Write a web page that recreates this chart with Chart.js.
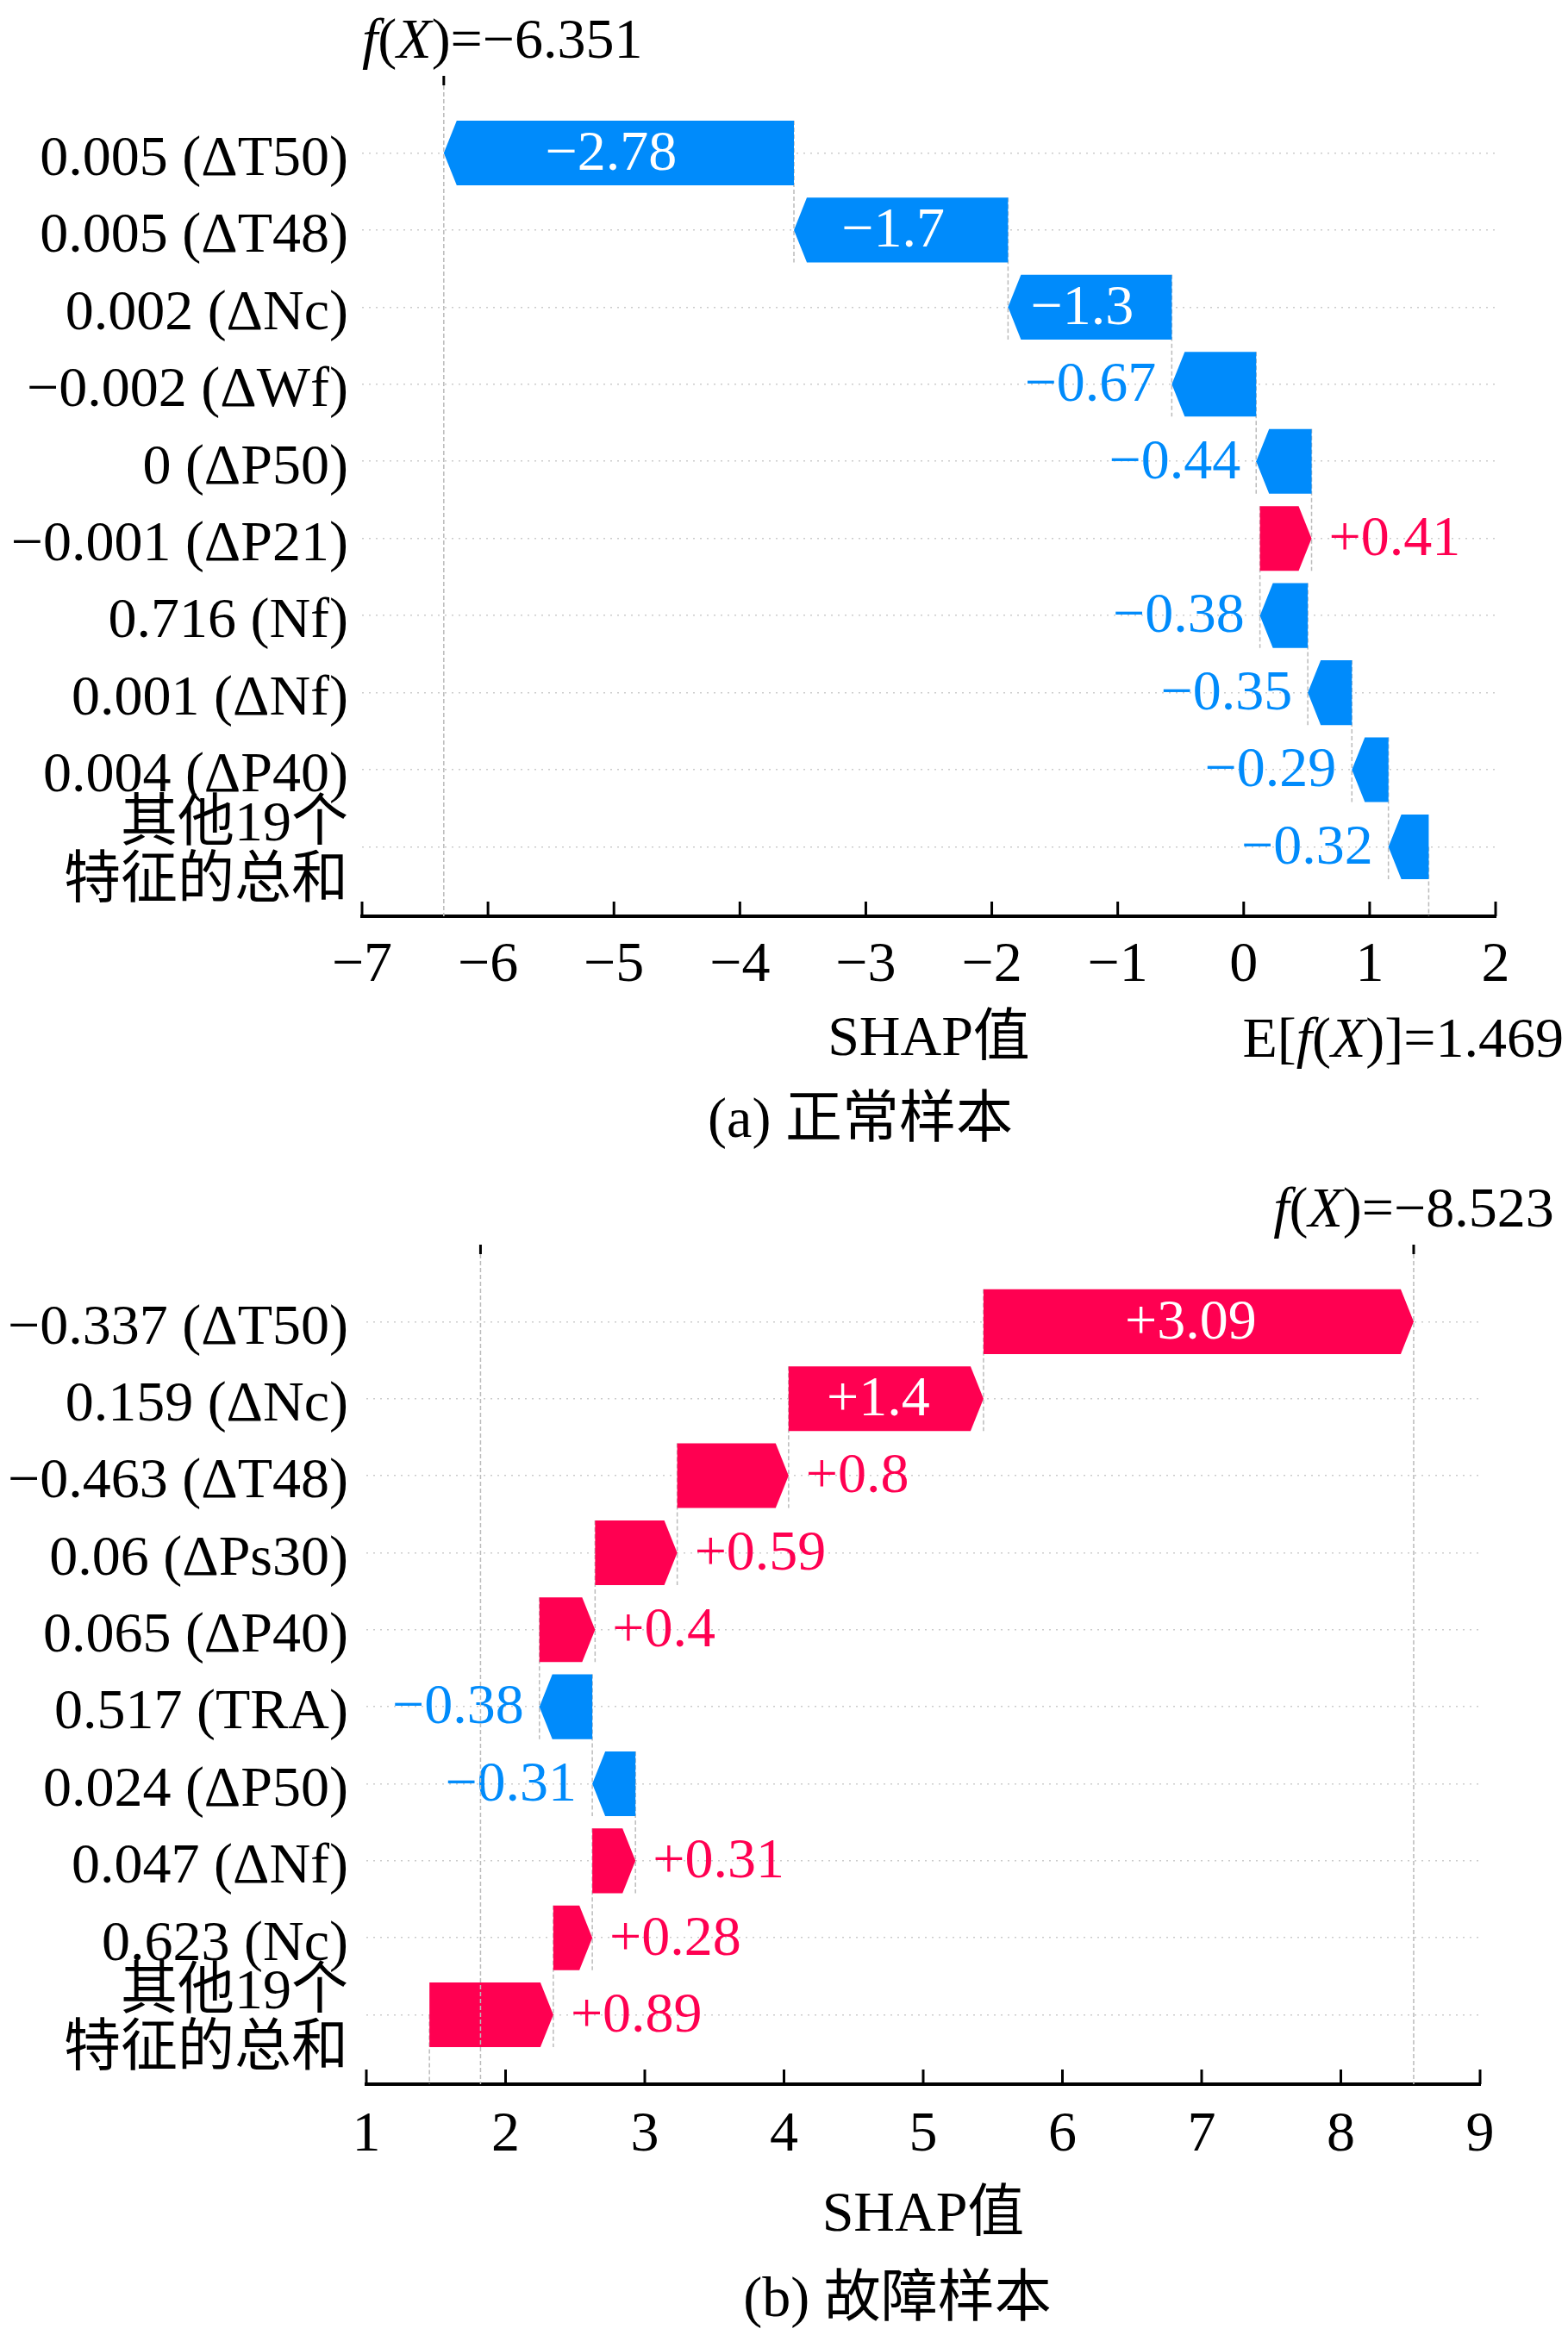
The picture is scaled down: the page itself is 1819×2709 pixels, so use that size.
<!DOCTYPE html>
<html>
<head>
<meta charset="utf-8">
<script src="https://cdn.jsdelivr.net/npm/chart.js@4.4.1/dist/chart.umd.min.js"></script>
<style>
html, body { margin: 0; padding: 0; background: #fff; }
#wrap { position: relative; width: 1819px; height: 2709px; }
canvas { position: absolute; left: 0; }
#c1 { top: 0; }
#c2 { top: 1350px; }
</style>
</head>
<body>
<div id="wrap">
<canvas id="c1" width="1819" height="1350"></canvas>
<canvas id="c2" width="1819" height="1359"></canvas>
</div>
<script>
// (a) 正常样本
const featuresA = ['0.005 (ΔT50)', '0.005 (ΔT48)', '0.002 (ΔNc)', '\u22120.002 (ΔWf)', '0 (ΔP50)',
  '\u22120.001 (ΔP21)', '0.716 (Nf)', '0.001 (ΔNf)', '0.004 (ΔP40)', ['其他19个', '特征的总和']];
const shapA = [-2.78, -1.7, -1.3, -0.67, -0.44, 0.41, -0.38, -0.35, -0.29, -0.32];
const baseA = 1.469;
const fxA = -6.351;
const xRangeA = [-7, 2];

// (b) 故障样本
const featuresB = ['\u22120.337 (ΔT50)', '0.159 (ΔNc)', '\u22120.463 (ΔT48)', '0.06 (ΔPs30)', '0.065 (ΔP40)',
  '0.517 (TRA)', '0.024 (ΔP50)', '0.047 (ΔNf)', '0.623 (Nc)', ['其他19个', '特征的总和']];
const shapB = [3.09, 1.4, 0.8, 0.59, 0.4, -0.38, -0.31, 0.31, 0.28, 0.89];
const baseB = 1.453;
const fxB = 8.523;
const markB = 1.82;
const xRangeB = [1, 9];

const BLUE = '#008bfb';
const RED = '#ff0051';
const FONT = '"Liberation Serif", "Times New Roman", "Noto Sans CJK SC", serif';
const FS = 66;

// waterfall spans, built from the bottom row (base value) upward
function spans(shap, base) {
  const out = new Array(shap.length);
  let acc = base;
  for (let i = shap.length - 1; i >= 0; i--) {
    out[i] = [acc, acc + shap[i]];
    acc += shap[i];
  }
  return out;
}

function fmt(v) {
  return (v < 0 ? '\u2212' : '+') + Math.abs(v);
}

function vline(ctx, x, y1, y2) {
  ctx.beginPath();
  ctx.moveTo(x, y1);
  ctx.lineTo(x, y2);
  ctx.stroke();
}

// text with italic parts, e.g. f(X)
function richWidth(ctx, parts) {
  let w = 0;
  parts.forEach(p => {
    ctx.font = (p[1] ? 'italic ' : '') + FS + 'px ' + FONT;
    w += ctx.measureText(p[0]).width;
  });
  return w;
}
function drawRich(ctx, parts, x, y) {
  ctx.textAlign = 'left';
  ctx.textBaseline = 'alphabetic';
  parts.forEach(p => {
    ctx.font = (p[1] ? 'italic ' : '') + FS + 'px ' + FONT;
    ctx.fillText(p[0], x, y);
    x += ctx.measureText(p[0]).width;
  });
}

function makeWaterfall(info) {
  return {
    id: 'waterfall',
    beforeDatasetDraw() { return false; },
    beforeDatasetsDraw(chart) {
      const ctx = chart.ctx, xs = chart.scales.x, ca = chart.chartArea;
      const bars = chart.getDatasetMeta(0).data;
      ctx.save();
      ctx.strokeStyle = '#bbbbbb';
      ctx.lineWidth = 1.5;
      ctx.setLineDash([5, 3]);
      for (let i = 0; i < bars.length - 1; i++) {
        const px = xs.getPixelForValue(info.spans[i][0]);
        vline(ctx, px, bars[i].y - bars[i].height / 2, bars[i + 1].y + bars[i + 1].height / 2);
      }
      const last = bars[bars.length - 1];
      vline(ctx, xs.getPixelForValue(info.base), last.y, ca.bottom);
      ctx.restore();
    },
    afterDatasetsDraw(chart) {
      const ctx = chart.ctx, xs = chart.scales.x, ca = chart.chartArea;
      const bars = chart.getDatasetMeta(0).data;
      ctx.save();
      ctx.font = FS + 'px ' + FONT;
      ctx.textBaseline = 'middle';
      bars.forEach((el, i) => {
        const dir = info.shap[i] >= 0 ? 1 : -1;
        const lo = Math.min(el.x, el.base), hi = Math.max(el.x, el.base);
        const tail = dir > 0 ? lo : hi, tip = dir > 0 ? hi : lo;
        const head = Math.min(15, hi - lo);
        const sh = tip - dir * head;
        const top = el.y - el.height / 2, bot = el.y + el.height / 2;
        ctx.fillStyle = el.options.backgroundColor;
        ctx.beginPath();
        ctx.moveTo(tail, top);
        ctx.lineTo(sh, top);
        ctx.lineTo(tip, el.y);
        ctx.lineTo(sh, bot);
        ctx.lineTo(tail, bot);
        ctx.closePath();
        ctx.fill();

        const txt = fmt(info.shap[i]);
        const tw = ctx.measureText(txt).width;
        const ty = el.y + 2;
        if (tw < hi - lo - 30) {
          ctx.fillStyle = '#ffffff';
          ctx.textAlign = 'center';
          ctx.fillText(txt, (lo + hi) / 2 - 9, ty);
        } else if (dir > 0) {
          ctx.textAlign = 'left';
          ctx.fillText(txt, tip + 20, ty);
        } else {
          ctx.textAlign = 'right';
          ctx.fillText(txt, tip - 18, ty);
        }
      });

      // f(X) line and extra marker lines, full height
      info.fullLines.forEach(v => {
        const px = xs.getPixelForValue(v);
        ctx.strokeStyle = '#bbbbbb';
        ctx.lineWidth = 1.5;
        ctx.setLineDash([5, 3]);
        vline(ctx, px, ca.top + 11, ca.bottom);
        ctx.setLineDash([]);
        ctx.strokeStyle = '#000';
        ctx.lineWidth = 3;
        vline(ctx, px, ca.top, ca.top + 11);
      });
      ctx.restore();
    },
    afterDraw(chart) {
      const ctx = chart.ctx, xs = chart.scales.x, ca = chart.chartArea;
      ctx.save();
      // inward tick marks
      ctx.strokeStyle = '#000';
      ctx.lineWidth = 3;
      xs.ticks.forEach(t => {
        const px = xs.getPixelForValue(t.value);
        vline(ctx, px, ca.bottom, ca.bottom - 17);
      });
      ctx.fillStyle = '#000';
      // f(X) label
      const fParts = [['f', true], ['(', false], ['X', true], [')=\u2212' + Math.abs(info.fx).toFixed(3), false]];
      const fw = richWidth(ctx, fParts);
      const fc = Math.max(ca.left + fw / 2, xs.getPixelForValue(info.fx));
      drawRich(ctx, fParts, fc - fw / 2, info.fxBaseline);
      // E[f(X)] label
      if (info.showBase) {
        const eParts = [['E[', false], ['f', true], ['(', false], ['X', true], [')]=' + info.base.toFixed(3), false]];
        const ew = richWidth(ctx, eParts);
        const ec = Math.min(xs.getPixelForValue(info.base), chart.width - 5 - ew / 2);
        drawRich(ctx, eParts, ec - ew / 2, info.baseBaseline);
      }
      // sub-figure caption
      ctx.font = FS + 'px ' + FONT;
      ctx.textAlign = 'center';
      ctx.textBaseline = 'middle';
      ctx.fillText(info.caption, info.captionX, info.captionY);
      ctx.restore();
    }
  };
}

function makeChart(id, info) {
  const sp = info.spans;
  return new Chart(document.getElementById(id), {
    type: 'bar',
    data: {
      datasets: [{
        data: sp.map((s, i) => ({ x: s, y: i })),
        backgroundColor: info.shap.map(v => v >= 0 ? RED : BLUE),
        barPercentage: 0.84,
        categoryPercentage: 1
      }]
    },
    options: {
      responsive: false,
      animation: false,
      devicePixelRatio: 1,
      indexAxis: 'y',
      layout: { padding: info.padding },
      plugins: { legend: { display: false }, tooltip: { enabled: false } },
      scales: {
        x: {
          type: 'linear',
          position: 'bottom',
          min: info.xRange[0],
          max: info.xRange[1],
          offset: false,
          afterFit: s => { s.height = info.xAxisHeight; },
          ticks: {
            stepSize: 1,
            padding: info.xTickPad,
            maxRotation: 0,
            autoSkip: false,
            color: '#000',
            font: { family: FONT, size: FS, lineHeight: 1.2 },
            callback: v => (v < 0 ? '\u2212' : '') + Math.abs(v)
          },
          grid: { drawOnChartArea: false, drawTicks: false },
          border: { display: true, color: '#000', width: 4 },
          title: { display: true, text: 'SHAP值', color: '#000', padding: 0,
            font: { family: FONT, size: FS, lineHeight: 1.2 } }
        },
        y: {
          type: 'linear',
          position: 'left',
          reverse: true,
          offset: false,
          min: -1,
          max: 9.9,
          afterBuildTicks: s => { s.ticks = info.features.map((f, i) => ({ value: i })); },
          afterFit: s => { s.width = info.yAxisWidth; },
          ticks: {
            padding: info.yTickPad,
            autoSkip: false,
            color: '#000',
            labelOffset: 8,
            font: { family: FONT, size: FS, lineHeight: 1.0 },
            callback: (v, i) => info.features[i]
          },
          grid: { color: '#cccccc', lineWidth: 1.5, drawTicks: false, offset: false },
          border: { display: false, dash: [2, 6] }
        }
      }
    },
    plugins: [makeWaterfall(info)]
  });
}

makeChart('c1', {
  features: featuresA, shap: shapA, base: baseA, fx: fxA, xRange: xRangeA,
  spans: spans(shapA, baseA),
  fullLines: [fxA],
  showBase: true,
  padding: { top: 88, right: 84, bottom: 104, left: 0 },
  yAxisWidth: 420, yTickPad: 16, xAxisHeight: 183, xTickPad: 18,
  fxBaseline: 67, baseBaseline: 1226,
  caption: '(a) 正常样本', captionX: 998, captionY: 1302
});

makeChart('c2', {
  features: featuresB, shap: shapB, base: baseB, fx: fxB, xRange: xRangeB,
  spans: spans(shapB, baseB),
  fullLines: [fxB, markB],
  showBase: false,
  padding: { top: 94, right: 102, bottom: 99, left: 0 },
  yAxisWidth: 425, yTickPad: 21, xAxisHeight: 192, xTickPad: 20,
  fxBaseline: 73, baseBaseline: 0,
  caption: '(b) 故障样本', captionX: 1041, captionY: 1320
});
</script>
</body>
</html>
